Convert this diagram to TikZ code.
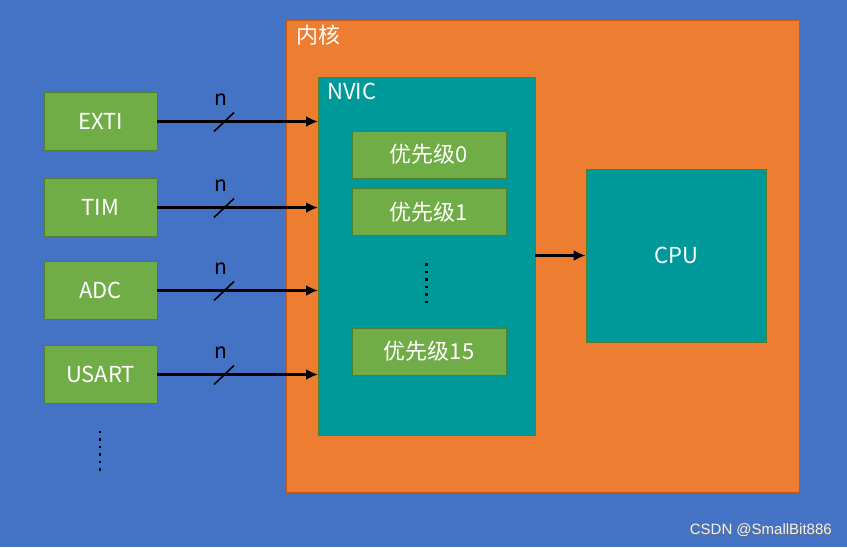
\documentclass[tikz,border=0pt]{standalone}
\usepackage{fontspec}
\setmainfont{Noto Sans CJK SC}
\newfontfamily\wmfont{Liberation Sans}
\usetikzlibrary{arrows.meta}
\definecolor{bgblue}{HTML}{4472C4}
\definecolor{coreorange}{HTML}{ED7D31}
\definecolor{coreborder}{HTML}{C55A11}
\definecolor{nvicteal}{HTML}{009999}
\definecolor{boxgreen}{HTML}{70AD47}
\definecolor{boxborder}{HTML}{507E32}
\tikzset{
  gbox/.style={draw=boxborder, line width=0.8pt, fill=boxgreen, text=white, font=\fontsize{22}{24}\selectfont},
  sig/.style={-{Latex[length=12pt,width=11pt]}, line width=2.8pt, black},
  lbl/.style={text=white, font=\fontsize{22}{24}\selectfont, anchor=north west, inner sep=0pt},
}
\begin{document}
\begin{tikzpicture}[x=1pt,y=-1pt]
\fill[bgblue] (0,0) rectangle (847,547);
\useasboundingbox (0,0) rectangle (847,547);
% core
\draw[coreborder, fill=coreorange, line width=0.8pt] (286,20) rectangle (799,492);
\node[lbl] (core) at (296,25) {内核};
% NVIC
\draw[boxborder, fill=nvicteal, line width=0.8pt] (318,77) rectangle (535,435);
\node[lbl] (nvic) at (327,83) {NVIC};
% priority boxes
\node[gbox, minimum width=154pt, minimum height=47pt, inner sep=0pt] (p0) at (429,154.5) {优先级0};
\node[gbox, minimum width=154pt, minimum height=47pt, inner sep=0pt] (p1) at (429,212) {优先级1};
\node[gbox, minimum width=154pt, minimum height=47pt, inner sep=0pt] (p15) at (429,351.5) {优先级15};
\foreach \i in {0,...,5} \fill[black] (424.8,263+7.5*\i) rectangle +(2.8,2.8);
% CPU
\node[draw=boxborder, line width=0.8pt, fill=nvicteal, text=white, minimum width=180pt, minimum height=173pt, inner sep=0pt, font=\fontsize{22}{24}\selectfont] (cpu) at (676,255.5) {CPU};
\coordinate (nvicR) at (535,255.5);
\draw[sig] (nvicR) -- (cpu.west);
% peripherals
\foreach \name/\txt/\y in {exti/EXTI/121.5, tim/TIM/207.5, adc/ADC/290.5, usart/USART/374.5}{
  \node[gbox, minimum width=113pt, minimum height=58pt, inner sep=0pt] (\name) at (100.5,\y) {\txt};
  \coordinate (\name in) at (318,\y);
  \draw[sig] (\name.east) -- (\name in);
  \draw[black, line width=1.6pt] (214,\y+10) -- (234,\y-9);
  \node[text=black, font=\fontsize{21}{23}\selectfont, inner sep=0pt] (\name n) at (221,\y-22) {n};
}
\foreach \i in {0,...,5} \fill[black] (98.5,430.5+7.5*\i) rectangle +(2.8,2.8);
% watermark
\node[text=black!55, font=\wmfont\fontsize{15}{17}\selectfont, inner sep=0pt] at (761.6,530.6) {CSDN @SmallBit886};
\node[text=white!88!gray, font=\wmfont\fontsize{15}{17}\selectfont, inner sep=0pt] (wm) at (760.8,529.8) {CSDN @SmallBit886};
\end{tikzpicture}
\end{document}
